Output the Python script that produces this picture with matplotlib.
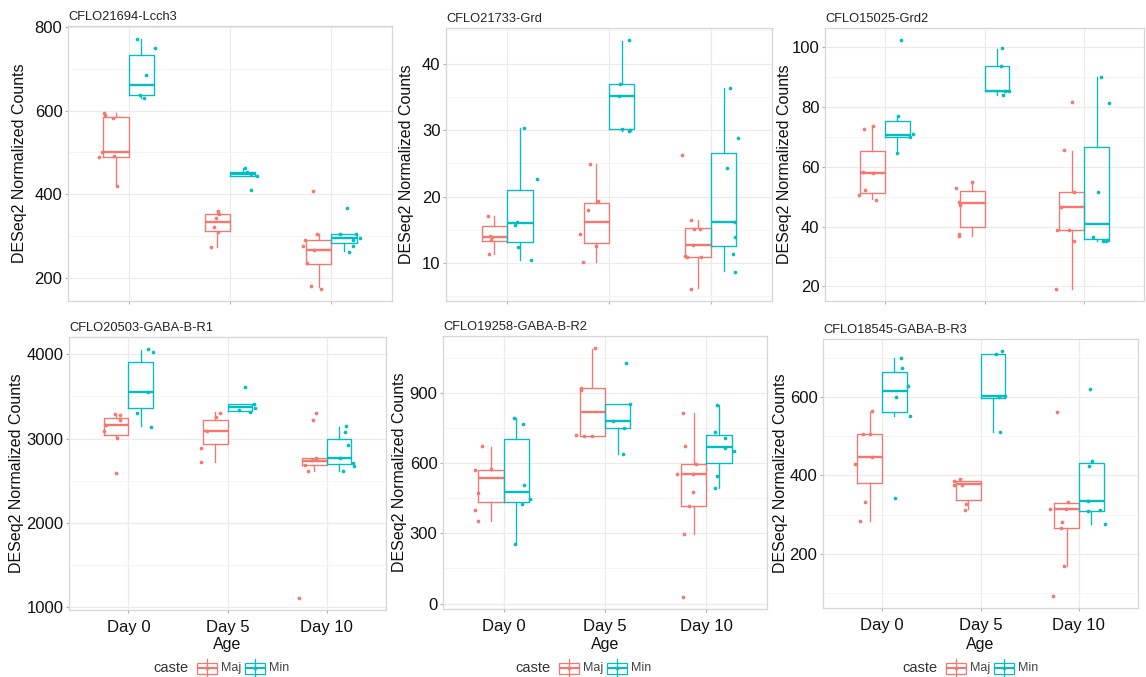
import matplotlib.pyplot as plt
from matplotlib.patches import Rectangle

plt.rcParams['font.family'] = ['Liberation Sans', 'DejaVu Sans']

ages = ['Day 0', 'Day 5', 'Day 10']
castes = ['Maj', 'Min']
caste_colors = ['#F8766D', '#00BFC4']

genes = ['CFLO21694-Lcch3', 'CFLO21733-Grd', 'CFLO15025-Grd2',
         'CFLO20503-GABA-B-R1', 'CFLO19258-GABA-B-R2', 'CFLO18545-GABA-B-R3']

yticks = [[200, 400, 600, 800], [10, 20, 30, 40], [20, 40, 60, 80, 100],
          [1000, 2000, 3000, 4000], [0, 300, 600, 900], [200, 400, 600]]

# box summaries per age: whisker low, q1, median, q3, whisker high
# points per age, with their horizontal jitter (in category units)

# --- CFLO21694-Lcch3
lcch3_maj_box = [[420, 490, 502, 584, 595], [275, 313, 334, 352, 360], [179, 234, 268, 290, 304]]
lcch3_maj_pts = [[595, 590, 581, 502, 491, 489, 420],
                 [360, 354, 344, 323, 311, 275],
                 [409, 304, 290, 277, 268, 235, 182, 175]]
lcch3_maj_jit = [[-0.245, -0.23, -0.16, -0.265, -0.15, -0.295, -0.12],
                 [-0.12, -0.11, -0.14, -0.16, -0.12, -0.19],
                 [-0.185, -0.14, -0.255, -0.275, -0.17, -0.24, -0.2, -0.1]]
lcch3_min_box = [[629, 636, 661, 733, 771], [444, 444, 448, 453, 463], [265, 283, 295, 305, 305]]
lcch3_min_pts = [[772, 750, 684, 636, 629],
                 [463, 453, 449, 444, 411],
                 [367, 304, 304, 292, 295, 277, 263]]
lcch3_min_jit = [[0.086, 0.258, 0.169, 0.113, 0.146],
                 [0.152, 0.172, 0.209, 0.265, 0.212],
                 [0.156, 0.089, 0.245, 0.212, 0.285, 0.212, 0.172]]

# --- CFLO21733-Grd
grd_maj_box = [[11.4, 13.3, 13.95, 15.5, 17.0], [10.2, 12.95, 16.2, 19.0, 24.9], [6.2, 10.9, 12.75, 15.2, 16.4]]
grd_maj_pts = [[17.1, 14.1, 13.9, 13.4, 11.4],
               [24.95, 19.3, 18.0, 14.35, 12.6, 10.2],
               [26.25, 16.45, 15.15, 15.15, 12.75, 11.0, 10.85, 10.9, 6.15]]
grd_maj_jit = [[-0.19, -0.17, -0.15, -0.16, -0.18],
               [-0.19, -0.11, -0.21, -0.28, -0.13, -0.26],
               [-0.28, -0.2, -0.17, -0.11, -0.18, -0.25, -0.23, -0.1, -0.2]]
grd_min_box = [[10.5, 13.2, 15.95, 20.95, 30.35], [29.85, 30.1, 35.2, 36.9, 43.4], [8.75, 12.6, 16.2, 26.5, 36.3]]
grd_min_pts = [[30.35, 22.65, 16.1, 15.7, 12.35, 10.4],
               [43.5, 36.95, 35.2, 30.1, 30.0, 29.85],
               [36.35, 28.8, 24.3, 16.2, 13.85, 11.4, 8.7]]
grd_min_jit = [[0.17, 0.29, 0.10, 0.08, 0.11, 0.23],
               [0.20, 0.11, 0.10, 0.13, 0.21, 0.2],
               [0.19, 0.27, 0.16, 0.24, 0.24, 0.22, 0.24]]

# --- CFLO15025-Grd2
grd2_maj_box = [[49.1, 51.3, 58.0, 65.3, 73.4], [36.7, 39.8, 47.7, 51.8, 55.0], [19.3, 38.7, 46.6, 51.6, 65.3]]
grd2_maj_pts = [[72.7, 73.4, 58.2, 58.0, 52.1, 50.4, 49.0],
                [54.9, 53.0, 48.3, 47.2, 37.4, 36.7],
                [81.4, 65.7, 51.4, 46.6, 38.7, 38.7, 35.3, 19.3]]
grd2_maj_jit = [[-0.21, -0.12, -0.22, -0.12, -0.2, -0.26, -0.09],
                [-0.13, -0.29, -0.26, -0.25, -0.26, -0.26],
                [-0.12, -0.2, -0.1, -0.23, -0.27, -0.15, -0.1, -0.28]]
grd2_min_box = [[64.7, 70.0, 70.5, 75.1, 76.9], [83.9, 85.3, 85.3, 93.4, 99.4], [35.1, 35.8, 40.8, 66.4, 89.8]]
grd2_min_pts = [[102.1, 76.9, 70.8, 70.0, 64.7],
                [99.6, 93.6, 85.3, 85.3, 83.8],
                [89.8, 81.1, 51.6, 36.4, 35.2, 35.1, 35.6]]
grd2_min_jit = [[0.16, 0.13, 0.28, 0.25, 0.12],
                [0.18, 0.17, 0.21, 0.25, 0.19],
                [0.17, 0.25, 0.14, 0.09, 0.19, 0.22, 0.24]]

# --- CFLO20503-GABA-B-R1
gbr1_maj_box = [[3017, 3044, 3162, 3249, 3288], [2726, 2930, 3092, 3221, 3312], [2612, 2683, 2734, 2769, 2773]]
gbr1_maj_pts = [[3288, 3285, 3221, 3162, 3088, 3005, 2596],
                [3304, 3261, 3092, 2887, 2718],
                [3308, 3217, 2773, 2742, 2683, 2612, 1110]]
gbr1_maj_jit = [[-0.14, -0.09, -0.09, -0.23, -0.25, -0.12, -0.13],
                [-0.08, -0.12, -0.21, -0.27, -0.27],
                [-0.11, -0.14, -0.11, -0.15, -0.22, -0.19, -0.28]]
gbr1_min_box = [[3143, 3359, 3556, 3910, 4047], [3332, 3332, 3371, 3406, 3406], [2616, 2694, 2769, 2993, 3135]]
gbr1_min_pts = [[4059, 4028, 3556, 3300, 3135],
                [3607, 3410, 3363, 3339, 3312],
                [3143, 3072, 2919, 2769, 2714, 2675, 2616]]
gbr1_min_jit = [[0.2, 0.25, 0.2, 0.09, 0.23],
                [0.18, 0.27, 0.28, 0.12, 0.23],
                [0.2, 0.19, 0.22, 0.14, 0.27, 0.28, 0.17]]

# --- CFLO19258-GABA-B-R2
gbr2_maj_box = [[354, 436, 536, 572, 671], [717, 717, 818, 920, 1088], [299, 419, 555, 596, 812]]
gbr2_maj_pts = [[674, 572, 573, 473, 399, 351],
                [1090, 920, 914, 720, 715, 717],
                [812, 672, 597, 555, 555, 476, 419, 299, 30]]
gbr2_maj_jit = [[-0.21, -0.28, -0.13, -0.25, -0.28, -0.25],
                [-0.1, -0.24, -0.235, -0.29, -0.21, -0.13],
                [-0.23, -0.21, -0.1, -0.29, -0.13, -0.13, -0.17, -0.22, -0.23]]
gbr2_min_box = [[256, 433, 478, 705, 791], [638, 749, 781, 853, 853], [494, 599, 667, 722, 850]]
gbr2_min_pts = [[791, 768, 508, 447, 426, 255],
                [1027, 853, 781, 749, 637],
                [850, 734, 707, 665, 651, 546, 494]]
gbr2_min_jit = [[0.1, 0.19, 0.2, 0.26, 0.18, 0.11],
                [0.21, 0.25, 0.08, 0.19, 0.18],
                [0.11, 0.09, 0.19, 0.19, 0.27, 0.11, 0.09]]

# --- CFLO18545-GABA-B-R3
gbr3_maj_box = [[284, 380, 448, 505, 563], [314, 338, 377, 385, 386], [170, 265, 315, 331, 331]]
gbr3_maj_pts = [[565, 505, 505, 448, 429, 333, 283],
                [386, 391, 376, 376, 327, 313],
                [561, 332, 315, 315, 280, 265, 170, 93]]
gbr3_maj_jit = [[-0.1, -0.19, -0.12, -0.1, -0.28, -0.17, -0.22],
                [-0.27, -0.21, -0.27, -0.19, -0.15, -0.16],
                [-0.22, -0.11, -0.29, -0.13, -0.17, -0.18, -0.15, -0.26]]
gbr3_min_box = [[552, 563, 615, 663, 699], [511, 597, 603, 711, 711], [276, 310, 336, 431, 438]]
gbr3_min_pts = [[700, 674, 627, 600, 551, 342],
                [711, 717, 599, 603, 510],
                [620, 438, 425, 336, 309, 311, 275]]
gbr3_min_jit = [[0.19, 0.2, 0.26, 0.14, 0.28, 0.13],
                [0.16, 0.22, 0.19, 0.25, 0.2],
                [0.11, 0.13, 0.1, 0.09, 0.09, 0.21, 0.26]]

boxes = [[lcch3_maj_box, lcch3_min_box], [grd_maj_box, grd_min_box], [grd2_maj_box, grd2_min_box],
         [gbr1_maj_box, gbr1_min_box], [gbr2_maj_box, gbr2_min_box], [gbr3_maj_box, gbr3_min_box]]
points = [[lcch3_maj_pts, lcch3_min_pts], [grd_maj_pts, grd_min_pts], [grd2_maj_pts, grd2_min_pts],
          [gbr1_maj_pts, gbr1_min_pts], [gbr2_maj_pts, gbr2_min_pts], [gbr3_maj_pts, gbr3_min_pts]]
jitter = [[lcch3_maj_jit, lcch3_min_jit], [grd_maj_jit, grd_min_jit], [grd2_maj_jit, grd2_min_jit],
          [gbr1_maj_jit, gbr1_min_jit], [gbr2_maj_jit, gbr2_min_jit], [gbr3_maj_jit, gbr3_min_jit]]

W, H = 1146, 677
fig = plt.figure(figsize=(W / 100, H / 100), dpi=100)
fig.patch.set_facecolor('white')

# panel boxes in pixels: left, top, right, bottom
panel_px = [(68, 26, 392, 301), (446, 28, 772, 301), (825, 28, 1144, 301),
            (69, 337, 386, 610), (443, 336, 767, 609), (823, 339, 1138, 608)]
ylabel_x = [20, 407, 785, 17, 400, 781]
legend_x = [153, 515, 902]

border = '#d6d6d6'
dodge = 0.125
box_w = 0.25

for k, gene in enumerate(genes):
    l, t, r, b = panel_px[k]
    ax = fig.add_axes([l / W, 1 - b / H, (r - l) / W, (b - t) / H])

    for c, caste in enumerate(castes):
        col = caste_colors[c]
        sign = -1 if c == 0 else 1
        stats = []
        for d in range(3):
            wl, q1, med, q3, wh = boxes[k][c][d]
            stats.append(dict(whislo=wl, q1=q1, med=med, q3=q3, whishi=wh, fliers=[]))
        ax.bxp(stats, positions=[d + sign * dodge for d in range(3)], widths=box_w,
               showfliers=False, showcaps=False,
               boxprops=dict(color=col, lw=0.95),
               whiskerprops=dict(color=col, lw=0.95),
               medianprops=dict(color=col, lw=1.7, solid_capstyle='butt'),
               manage_ticks=False)
        for d in range(3):
            xs = [d + j for j in jitter[k][c][d]]
            ax.scatter(xs, points[k][c][d], s=7, color=col, linewidths=0, zorder=4)

    major = yticks[k]
    step = major[1] - major[0]
    minor = [v - step / 2 for v in major] + [major[-1] + step / 2]
    ax.set_yticks(major)
    ax.set_yticks(minor, minor=True)
    ax.set_xticks(range(3))

    # ggplot-style 5% padding around the data range
    allv = []
    for c in range(2):
        for d in range(3):
            allv += boxes[k][c][d] + points[k][c][d]
    lo, hi = min(allv), max(allv)
    pad = (hi - lo) * 0.05
    ax.set_ylim(lo - pad, hi + pad)
    ax.set_xlim(-0.6, 2.6)

    ax.set_axisbelow(True)
    ax.grid(which='major', color='#ebebeb', lw=0.9)
    ax.grid(which='minor', axis='y', color='#f4f4f4', lw=0.6)
    for s in ax.spines.values():
        s.set_color(border)
        s.set_linewidth(0.9)
    ax.tick_params(which='major', length=2.5, width=0.8, color='#b0b0b0',
                   labelsize=12, labelcolor='#111111', pad=1.5)
    ax.tick_params(which='minor', length=0)

    ax.set_title(gene, loc='left', fontsize=9.3, color='#222222', pad=4)
    ax.set_ylabel('DESeq2 Normalized Counts', fontsize=11.5, color='#111111')
    ax.yaxis.label.set_verticalalignment('center')
    ax.yaxis.set_label_coords((ylabel_x[k] - l) / (r - l), 0.5)

    if k < 3:
        ax.set_xticklabels([])
    else:
        ax.set_xticklabels(ages)
        ax.tick_params(axis='x', pad=5)
        ax.set_xlabel('Age', fontsize=11.5, color='#111111')
        ax.xaxis.label.set_verticalalignment('center')
        ax.xaxis.set_label_coords(0.5, -(644 - b) / (b - t))

# caste legends under the bottom row, drawn on a pixel overlay
lay = fig.add_axes([0, 0, 1, 1])
lay.set_xlim(0, W)
lay.set_ylim(H, 0)
lay.axis('off')
ly = 668
for x0 in legend_x:
    lay.text(x0, ly, 'caste', fontsize=10.5, color='#333333', ha='left', va='center')
    for c, caste in enumerate(castes):
        col = caste_colors[c]
        kx = x0 + 44 + c * 48
        lay.plot([kx + 10, kx + 10], [ly - 9, ly + 9], color=col, lw=0.9)
        lay.add_patch(Rectangle((kx, ly - 5.5), 20, 11, facecolor='white', edgecolor=col, lw=0.9))
        lay.plot([kx, kx + 20], [ly, ly], color=col, lw=1.5, solid_capstyle='butt')
        lay.scatter([kx + 10], [ly], s=7, color=col, linewidths=0, zorder=4)
        lay.text(kx + 24, ly, caste, fontsize=9, color='#444444', ha='left', va='center')

fig.savefig('out.png', dpi=100)
